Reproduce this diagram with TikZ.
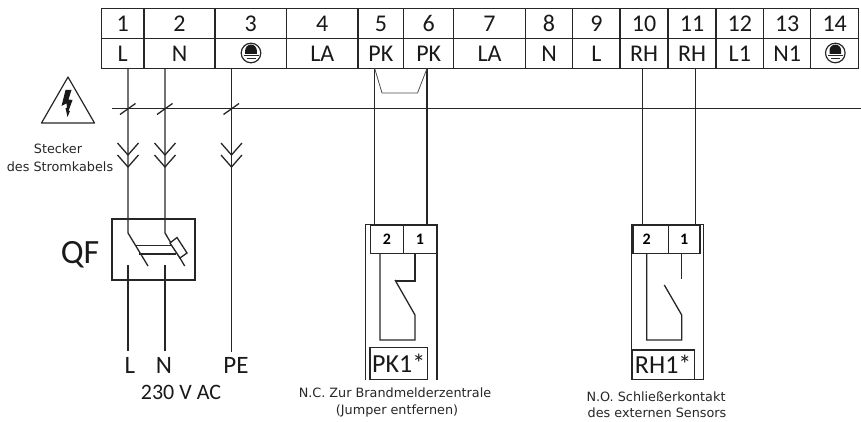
\documentclass[tikz,border=0pt]{standalone}
\usepackage{fontspec}
\setmainfont{Carlito}
\newfontfamily\smallfont{DejaVu Sans}
\tikzset{
  ln/.style={line width=1.3pt,black!85},
  thinln/.style={line width=0.8pt,black!70},
  cell/.style={draw=black!85,line width=1.4pt,anchor=north west,inner sep=0pt,outer sep=0pt,minimum height=30pt,font=\fontsize{24}{24}\selectfont,text=black!90},
  termb/.style={draw=black!85,line width=1.3pt,anchor=north west,inner sep=0pt,outer sep=0pt,minimum height=28.5pt,font=\bfseries\fontsize{16}{16}\selectfont},
  captxt/.style={font=\smallfont\fontsize{12.8}{12.8}\selectfont,text=black!85,inner sep=0pt},
  big/.style={font=\fontsize{25}{25}\selectfont,text=black!90,inner sep=0pt},
  tag/.style={draw=black!85,line width=1.3pt,anchor=north west,inner sep=0pt,outer sep=0pt,font=\fontsize{26}{26}\selectfont,text=black!90},
}
\newcommand{\earthsym}[2]{%
  \draw[line width=1.2pt,black!85] (#1,#2) circle (9.8pt);
  \fill[black!90] (#1-5.8,#2+1) -- (#1-5.8,#2-2.6) arc[start angle=180,end angle=0,x radius=5.8pt,y radius=5.8pt] -- (#1+5.8,#2+1) -- cycle;
  \draw[line width=0.9pt,black!85] (#1-7.5,#2+2.8) -- (#1+7.5,#2+2.8);
  \draw[line width=0.8pt,black!85] (#1-4.5,#2+5.2) -- (#1+4.5,#2+5.2);
}
\newcommand{\chev}[2]{%
  \draw[ln] (#1-10.5,#2-12) -- (#1,#2) -- (#1+10.5,#2-12);
}
\begin{document}
\begin{tikzpicture}[x=1pt,y=-1pt]
\useasboundingbox (0,0) rectangle (861,422);
% terminal strip
\foreach \n/\xa/\xb/\top/\bot in {1/101.5/144/1/L,2/144/215/2/N,3/215/286.5/3/,4/286.5/358/4/LA,5/358/403.7/5/PK,6/403.7/453.7/6/PK,7/453.7/525.3/7/LA,8/525.3/572.7/8/N,9/572.7/620/9/L,10/620/668/10/RH,11/668/716/11/RH,12/716/763.7/12/L1,13/763.7/810.7/13/N1,14/810.7/858.7/14/}{
  \pgfmathsetlengthmacro{\w}{\xb-\xa}
  \node[cell,minimum width=\w] (a\n) at (\xa,8.5) {\top};
  \node[cell,minimum width=\w] (b\n) at (\xa,38.5) {\bot};
}
\earthsym{251}{53}
\earthsym{835.3}{53}
% wire anchors on strip
\coordinate (wL) at (128,68.5);
\coordinate (wN) at (165,68.5);
\coordinate (wE) at (231.5,68.5);
\coordinate (wP1) at (374.7,68.5);
\coordinate (wP2) at (427,68.5);
\coordinate (wR1) at (642.7,68.5);
\coordinate (wR2) at (695.7,68.5);
% bus
\coordinate (busS) at (112,108.5);
\coordinate (busE) at (861,108.5);
\draw[ln] (busS) -- (busE);
\foreach \x in {128,165,231.5}{\draw[ln] (\x-8,114.5) -- (\x+7.5,103.5);}
% warning triangle
\draw[line width=1.2pt,black!85,line join=round] (68,77) -- (94.5,123) -- (41.5,123) -- cycle;
\fill[black!90] (65.5,90) -- (71.5,90) -- (68.5,99.5) -- (72.5,100) -- (68.5,111) -- (70,111) -- (67.5,117) -- (65.5,108) -- (67,108) -- (66.5,103.5) -- (61.5,106) -- cycle;
% wires and plugs
\draw[ln] (wL) -- (128,233) -- (148,266);
\draw[ln] (wN) -- (165,233) -- (184.7,266);
\draw[ln] (wE) -- (231.5,352);
\foreach \x in {128,165,231.5}{\chev{\x}{155}\chev{\x}{167}}
\node[captxt] (st1) at (58,149) {Stecker};
\node[captxt] (st2) at (60,167) {des Stromkabels};
% QF
\node[draw=black!85,line width=1.3pt,anchor=north west,minimum width=83pt,minimum height=61pt,inner sep=0pt,outer sep=0pt] (qf) at (112,219) {};
\node[font=\fontsize{34}{34}\selectfont,text=black!90,inner sep=0pt] (qfl) at (80,255) {QF};
\draw[ln] (128,265) -- (128,351);
\draw[ln] (165,265) -- (165,351);
\draw[ln] (136,245.5) -- (176,245.5);
\draw[ln] (138.5,254) -- (176,254);
\draw[ln,fill=white] (170,243) -- (177,237.5) -- (187,253) -- (180,258) -- cycle;
\node[big] (lL) at (130,365) {L};
\node[big] (lN) at (164,365) {N};
\node[big] (lPE) at (236,365) {PE};
\node[big,font=\fontsize{22}{22}\selectfont] (lV) at (181,392) {230 V AC};
% PK1 relay
\draw[ln] (wP1) -- (374.7,225);
\draw[ln] (wP2) -- (427,225);
\draw[thinln] (wP1) -- (382,93) -- (417.5,93) -- (wP2);
\node[termb,minimum width=33pt] (pk2) at (370.5,225) {2};
\node[termb,minimum width=33pt] (pk1) at (403.5,225) {1};
\draw[ln] (365.3,380) -- (365.3,224.8) -- (437,224.8) -- (437,380);
\draw[ln] (380,253.5) -- (380,340) -- (415,340) -- (415,315) -- (395,280) ;
\draw[ln] (395.5,281) -- (415,281) -- (415,253.5);
\node[tag,minimum width=57.5pt,minimum height=32pt] (pkt) at (370,347.7) {PK1*};
\node[captxt] (pkc1) at (395,393) {N.C. Zur Brandmelderzentrale};
\node[captxt] (pkc2) at (397,411) {(Jumper entfernen)};
% RH1 relay
\draw[ln] (wR1) -- (642.7,225);
\draw[ln] (wR2) -- (695.7,225);
\node[termb,minimum width=35.3pt] (rh2) at (633,225) {\hspace*{-8pt}2};
\node[termb,minimum width=31.7pt] (rh1) at (668.3,225) {1};
\draw[ln] (631.7,379.5) rectangle (703.3,224.8);
\draw[ln] (646.7,253.5) -- (646.7,340) -- (681.7,340) -- (681.7,315) -- (664.3,285);
\draw[ln] (681.7,253.5) -- (681.7,279);
\node[tag,minimum width=62.3pt,minimum height=29.5pt] (rht) at (632,350) {RH1*};
\node[captxt] (rhc1) at (656,396.7) {N.O. Schließerkontakt};
\node[captxt] (rhc2) at (657,413) {des externen Sensors};
\end{tikzpicture}
\end{document}
